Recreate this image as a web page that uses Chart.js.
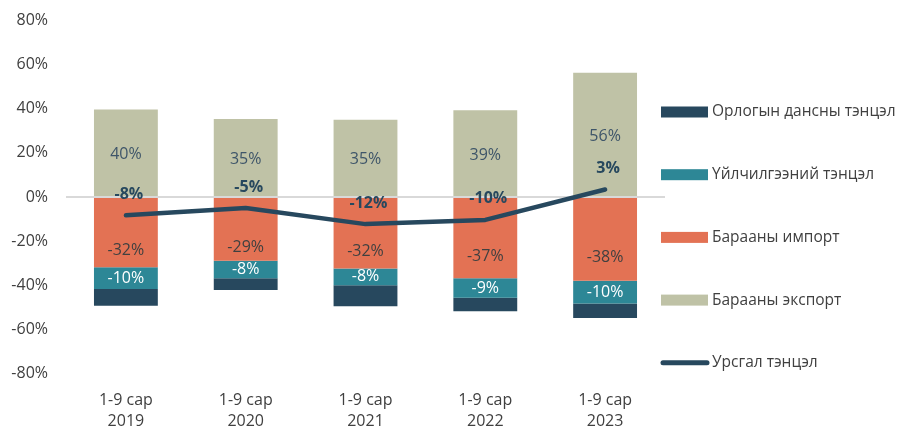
<!DOCTYPE html>
<html>
<head>
<meta charset="utf-8">
<script src="https://cdn.jsdelivr.net/npm/chart.js@4/dist/chart.umd.min.js"></script>
<style>
  html, body { margin: 0; padding: 0; background: #ffffff; }
  #wrap { width: 899px; height: 426px; position: relative; }
</style>
</head>
<body>
<div id="wrap"><canvas id="c" width="899" height="426"></canvas></div>
<script>
const categories = [['1-9 сар', '2019'], ['1-9 сар', '2020'], ['1-9 сар', '2021'], ['1-9 сар', '2022'], ['1-9 сар', '2023']];
const incomeBalance = [-7.7, -5.3, -9.5, -6.2, -6.6];       // Орлогын дансны тэнцэл
const servicesBalance = [-9.8, -8.0, -7.7, -8.8, -10.3];     // Үйлчилгээний тэнцэл
const goodsImport = [-31.9, -28.9, -32.4, -36.9, -38.0];     // Барааны импорт
const goodsExport = [39.7, 35.4, 35.1, 39.4, 56.4];          // Барааны экспорт
const currentAccount = [-8.3, -5.0, -12.3, -10.4, 3.4];      // Урсгал тэнцэл
const yTicks = [-80, -60, -40, -20, 0, 20, 40, 60, 80];

const FONT = '"Open Sans", "Noto Sans", sans-serif';
const FS = 16;
const C_INCOME = '#27485e';
const C_SERV = '#2d8796';
const C_IMP = '#e37254';
const C_EXP = '#bfc2a6';
const C_LINE = '#27485e';

const legendItems = [
  { label: 'Орлогын дансны тэнцэл', color: C_INCOME, type: 'box' },
  { label: 'Үйлчилгээний тэнцэл', color: C_SERV, type: 'box' },
  { label: 'Барааны импорт', color: C_IMP, type: 'box' },
  { label: 'Барааны экспорт', color: C_EXP, type: 'box' },
  { label: 'Урсгал тэнцэл', color: C_LINE, type: 'line' }
];

const labelPlugin = {
  id: 'labels',
  afterDatasetsDraw(chart) {
    const ctx = chart.ctx;
    ctx.save();
    ctx.textAlign = 'center';
    ctx.textBaseline = 'middle';
    chart.data.datasets.forEach((ds, di) => {
      const meta = chart.getDatasetMeta(di);
      if (!ds.labelColor) return;
      meta.data.forEach((el, i) => {
        const v = ds.data[i];
        const txt = Math.round(v) + '%';
        let x, y;
        if (ds.type === 'line') {
          x = el.x + 3; y = el.y - 21;
          ctx.font = 'bold ' + FS + 'px ' + FONT;
        } else {
          x = el.x;
          y = (el.y + el.base) / 2 + (ds.labelShift || 0);
          ctx.font = FS + 'px ' + FONT;
        }
        ctx.fillStyle = ds.labelColor;
        ctx.fillText(txt, x, y);
      });
    });
    ctx.restore();
  },
  afterDraw(chart) {
    const ctx = chart.ctx;
    const ca = chart.chartArea;
    ctx.save();
    const bx = ca.right - 4;
    const top = 112, step = 62.7;
    ctx.font = '15.5px ' + FONT;
    ctx.textAlign = 'left';
    ctx.textBaseline = 'middle';
    legendItems.forEach((it, i) => {
      const cy = top + i * step;
      if (it.type === 'box') {
        ctx.fillStyle = it.color;
        ctx.fillRect(bx, cy - 5.5, 47, 11);
      } else {
        ctx.strokeStyle = it.color;
        ctx.lineWidth = 5;
        ctx.lineCap = 'round';
        ctx.beginPath();
        ctx.moveTo(bx + 2, cy);
        ctx.lineTo(bx + 46, cy);
        ctx.stroke();
      }
      ctx.fillStyle = '#404040';
      ctx.fillText(it.label, bx + 51, cy);
    });
    ctx.restore();
  }
};

new Chart(document.getElementById('c'), {
  type: 'bar',
  data: {
    labels: categories,
    datasets: [
      { type: 'line', label: 'Урсгал тэнцэл', data: currentAccount, borderColor: C_LINE, backgroundColor: C_LINE,
        borderWidth: 4.5, borderCapStyle: 'round', borderJoinStyle: 'round', pointRadius: 0, tension: 0,
        stack: 'line', order: 0, labelColor: '#27485e' },
      { label: 'Барааны экспорт', data: goodsExport, backgroundColor: C_EXP, stack: 'bars', order: 1, labelColor: '#3e5569', labelShift: 2 },
      { label: 'Барааны импорт', data: goodsImport, backgroundColor: C_IMP, stack: 'bars', order: 1, labelColor: '#404040', labelShift: 18 },
      { label: 'Үйлчилгээний тэнцэл', data: servicesBalance, backgroundColor: C_SERV, stack: 'bars', order: 1, labelColor: '#ffffff' },
      { label: 'Орлогын дансны тэнцэл', data: incomeBalance, backgroundColor: C_INCOME, stack: 'bars', order: 1 }
    ]
  },
  options: {
    responsive: false,
    animation: false,
    maintainAspectRatio: false,
    layout: { padding: { top: 20.7, right: 234, bottom: 0, left: 0 } },
    datasets: { bar: { categoryPercentage: 1, barPercentage: 0.533, borderWidth: 0 } },
    plugins: { legend: { display: false }, tooltip: { enabled: false } },
    scales: {
      x: {
        stacked: true,
        grid: { display: false },
        border: { display: false },
        ticks: { color: '#404040', font: { family: FONT, size: FS, lineHeight: 1.31 }, padding: 9, maxRotation: 0 },
        afterFit(s) { s.height = 52.7; s.paddingLeft = 0; s.paddingRight = 0; }
      },
      y: {
        stacked: true,
        min: -80, max: 80,
        afterBuildTicks(s) { s.ticks = yTicks.map(v => ({ value: v })); },
        border: { display: false },
        grid: {
          drawTicks: false,
          color: (c) => (c.tick && c.tick.value === 0 ? '#d9d9d9' : 'rgba(0,0,0,0)'),
          lineWidth: 2
        },
        ticks: { color: '#404040', font: { family: FONT, size: FS }, padding: 18, callback: (v) => v + '%' },
        afterFit(s) { s.width = 66; s.paddingTop = 0; s.paddingBottom = 0; }
      }
    }
  },
  plugins: [labelPlugin]
});
</script>
</body>
</html>
